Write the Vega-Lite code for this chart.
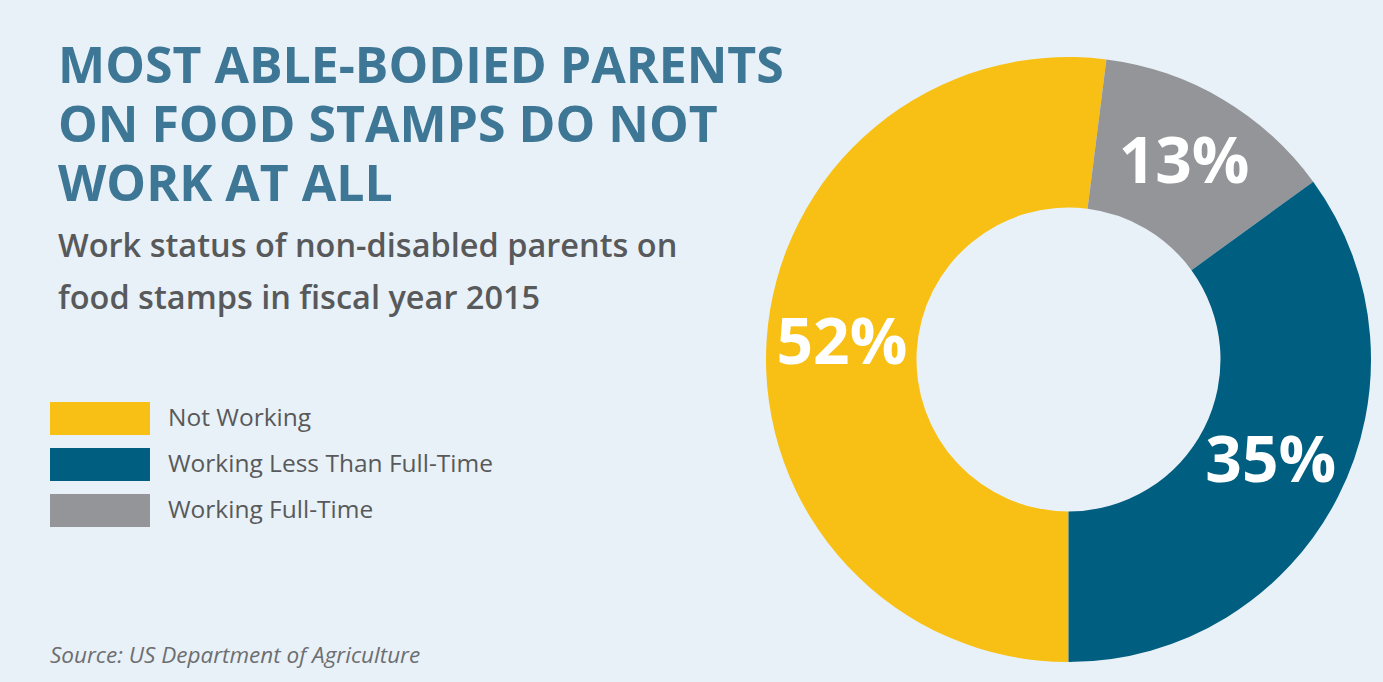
{
  "$schema": "https://vega.github.io/schema/vega-lite/v6.json",
  "autosize": {"type": "none"},
  "width": 605,
  "height": 605,
  "padding": {"left": 766, "top": 57, "right": 12, "bottom": 20},
  "background": "#e8f1f7",
  "title": {
    "text": ["MOST ABLE-BODIED PARENTS", "ON FOOD STAMPS DO NOT", "WORK AT ALL"],
    "subtitle": ["Work status of non-disabled parents on", "food stamps in fiscal year 2015"],
    "orient": "top",
    "anchor": "start",
    "frame": "group",
    "dx": -708,
    "offset": -258,
    "font": "Open Sans",
    "fontSize": 50,
    "fontWeight": "bold",
    "color": "#3e7795",
    "lineHeight": 59,
    "subtitleFont": "Open Sans",
    "subtitleFontSize": 32.5,
    "subtitleFontWeight": 600,
    "subtitleColor": "#58595b",
    "subtitleLineHeight": 52,
    "subtitlePadding": 20
  },
  "data": {
    "values": [
      {"status": "Not Working", "pct": 52, "label": "52%", "ord": 1},
      {"status": "Working Full-Time", "pct": 13, "label": "13%", "ord": 2},
      {"status": "Working Less Than Full-Time", "pct": 35, "label": "35%", "ord": 3}
    ]
  },
  "encoding": {
    "theta": {"field": "pct", "type": "quantitative", "stack": true, "scale": {"range": [3.14159265, 9.42477796]}},
    "order": {"field": "ord", "type": "quantitative"}
  },
  "layer": [
    {
      "mark": {"type": "arc", "innerRadius": 152, "outerRadius": 302.5, "stroke": null},
      "encoding": {
        "color": {
          "field": "status",
          "type": "nominal",
          "scale": {
            "domain": ["Not Working", "Working Less Than Full-Time", "Working Full-Time"],
            "range": ["#f8c015", "#005e80", "#939598"]
          },
          "legend": {
            "title": "Source: US Department of Agriculture",
            "orient": "none",
            "legendX": -716,
            "legendY": 345,
            "padding": 0,
            "titleOrient": "bottom",
            "titleAnchor": "start",
            "titlePadding": 118,
            "titleFont": "Open Sans",
            "titleFontSize": 22.5,
            "titleFontWeight": "normal",
            "titleFontStyle": "italic",
            "titleColor": "#6d6e71",
            "titleLimit": 600,
            "symbolType": "M-1,-1H5.06V1H-1Z",
            "symbolSize": 1089,
            "symbolStrokeWidth": 0,
            "symbolOpacity": 1,
            "rowPadding": 13,
            "labelOffset": 85,
            "labelFont": "Open Sans",
            "labelFontSize": 24.5,
            "labelColor": "#58595b",
            "labelLimit": 500
          }
        }
      }
    },
    {
      "mark": {"type": "text", "radius": 227, "font": "Open Sans", "fontSize": 64, "fontWeight": "bold", "color": "white", "align": "center", "baseline": "middle"},
      "encoding": {
        "text": {"field": "label", "type": "nominal"}
      }
    }
  ],
  "config": {"view": {"stroke": null}}
}
